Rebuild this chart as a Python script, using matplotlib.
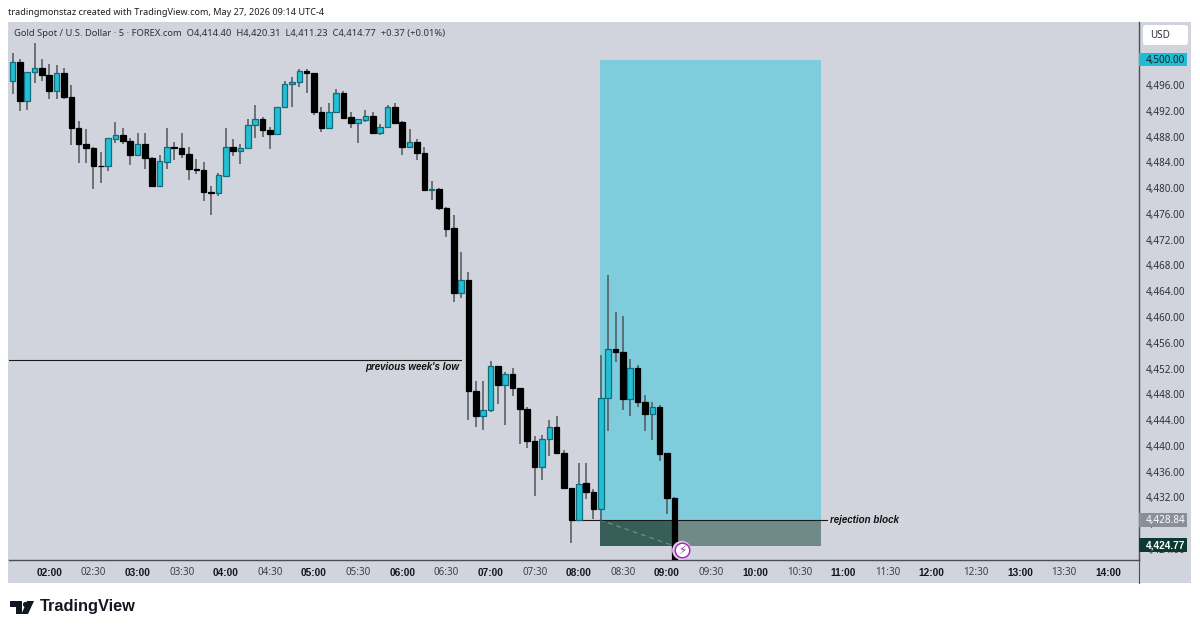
import matplotlib
matplotlib.use('Agg')
import matplotlib.pyplot as plt
from matplotlib.patches import Rectangle, FancyBboxPatch, Polygon

plt.rcParams['font.family'] = ['Noto Sans', 'DejaVu Sans']
BOLD_FONT = 'Liberation Sans'  # has real bold and bold italic faces

# OHLC, 5 min bars starting 01:35
opens = [4496.64, 4499.64, 4493.59, 4498.04, 4498.76, 4497.67, 4495.19, 4497.99, 4494.21, 4489.45,
         4486.97, 4486.30, 4483.56, 4483.50, 4487.75, 4488.37, 4487.38, 4485.26, 4486.87, 4484.80,
         4480.35, 4484.18, 4486.45, 4486.30, 4485.42, 4482.99, 4482.83, 4479.42, 4479.26, 4482.00,
         4486.40, 4485.88, 4486.25, 4489.81, 4490.74, 4489.14, 4488.42, 4492.71, 4496.28, 4496.59,
         4498.24, 4497.88, 4491.93, 4489.45, 4491.83, 4494.78, 4491.05, 4490.12, 4490.69, 4491.31,
         4488.67, 4489.50, 4492.61, 4490.28, 4486.45, 4487.18, 4485.47, 4479.78, 4479.99, 4476.99,
         4473.83, 4463.85, 4465.77, 4448.60, 4444.77, 4445.60, 4452.47, 4449.58, 4451.18, 4449.11,
         4445.85, 4440.89, 4436.86, 4441.10, 4443.06, 4438.98, 4433.55, 4428.53, 4434.27, 4432.98,
         4430.29, 4447.50, 4455.06, 4454.65, 4447.30, 4452.11, 4446.89, 4445.03, 4446.16, 4438.93,
         4431.94]
highs = [4500.99, 4500.11, 4498.09, 4502.54, 4500.05, 4499.28, 4499.17, 4498.66, 4496.07, 4490.54,
         4489.19, 4486.50, 4485.62, 4487.80, 4490.38, 4489.35, 4487.80, 4488.68, 4488.68, 4484.95,
         4485.21, 4489.35, 4487.28, 4488.68, 4486.40, 4484.64, 4484.07, 4480.45, 4482.37, 4489.35,
         4487.64, 4486.92, 4490.85, 4492.92, 4491.05, 4489.61, 4492.71, 4496.69, 4497.26, 4498.60,
         4498.50, 4497.88, 4492.61, 4493.33, 4495.40, 4495.09, 4491.83, 4490.74, 4492.24, 4491.93,
         4489.97, 4493.02, 4493.33, 4490.54, 4489.19, 4487.74, 4486.40, 4481.18, 4480.09, 4477.09,
         4475.95, 4470.11, 4467.01, 4450.15, 4450.15, 4453.25, 4452.47, 4451.54, 4452.11, 4449.11,
         4446.06, 4441.66, 4441.77, 4444.15, 4444.66, 4439.44, 4433.55, 4437.37, 4437.37, 4433.44,
         4454.18, 4466.59, 4460.80, 4460.23, 4453.51, 4452.63, 4447.98, 4446.89, 4446.42, 4438.93,
         4432.10]
lows = [4494.73, 4491.99, 4492.14, 4496.43, 4496.74, 4493.90, 4493.90, 4493.90, 4486.71, 4484.02,
        4483.92, 4479.99, 4480.92, 4482.68, 4487.12, 4486.87, 4483.61, 4485.26, 4483.04, 4480.35,
        4480.35, 4483.04, 4484.43, 4484.80, 4481.28, 4482.26, 4478.02, 4475.90, 4478.90, 4481.85,
        4485.05, 4483.87, 4486.09, 4487.80, 4487.95, 4486.09, 4488.42, 4492.71, 4492.71, 4495.71,
        4494.88, 4491.36, 4488.83, 4489.45, 4491.83, 4491.00, 4489.45, 4487.02, 4490.33, 4488.57,
        4488.36, 4489.50, 4490.23, 4485.16, 4486.24, 4484.49, 4479.73, 4478.18, 4476.62, 4472.54,
        4462.41, 4463.03, 4444.10, 4442.96, 4442.55, 4445.29, 4446.53, 4443.32, 4447.82, 4440.37,
        4439.70, 4432.36, 4434.79, 4438.56, 4438.98, 4433.55, 4425.06, 4428.53, 4431.89, 4428.79,
        4427.55, 4442.44, 4453.04, 4445.60, 4444.77, 4446.16, 4442.44, 4440.99, 4437.73, 4429.46,
        4421.50]
closes = [4499.64, 4493.59, 4498.09, 4498.76, 4497.67, 4495.19, 4497.99, 4494.21, 4489.45, 4486.97,
          4486.25, 4483.50, 4483.50, 4487.80, 4488.37, 4487.38, 4485.26, 4486.87, 4484.80, 4480.35,
          4484.23, 4486.50, 4486.30, 4485.42, 4482.99, 4482.83, 4479.42, 4479.26, 4482.06, 4486.45,
          4485.88, 4486.25, 4489.81, 4490.74, 4489.14, 4488.42, 4492.71, 4496.28, 4496.59, 4498.19,
          4497.88, 4491.93, 4489.45, 4491.83, 4494.78, 4491.00, 4490.12, 4490.74, 4491.31, 4488.57,
          4489.55, 4492.61, 4490.23, 4486.45, 4487.18, 4485.47, 4479.73, 4479.99, 4476.99, 4473.78,
          4463.85, 4465.77, 4448.60, 4444.77, 4445.60, 4452.42, 4449.58, 4451.18, 4449.11, 4445.80,
          4440.84, 4436.86, 4441.10, 4443.06, 4438.98, 4433.55, 4428.53, 4434.22, 4432.93, 4430.29,
          4447.50, 4455.06, 4454.65, 4447.30, 4452.11, 4446.89, 4445.03, 4446.16, 4438.87, 4431.94,
          4421.50]

price_ticks = [4500 - 4 * k for k in range(20)]
time_labels = ['02:00', '02:30', '03:00', '03:30', '04:00', '04:30', '05:00', '05:30', '06:00', '06:30',
               '07:00', '07:30', '08:00', '08:30', '09:00', '09:30', '10:00', '10:30', '11:00', '11:30',
               '12:00', '12:30', '13:00', '13:30', '14:00']
time_pos = [5 + 6 * k for k in range(len(time_labels))]

# position tool and drawings
entry = 4428.6
target = 4500.0
stop = 4424.55
box_start, box_end = 79.85, 110
last_bar = 90
prev_low = 4453.4
prev_low_end = 61
rej_start, rej_end = 76, 110.7

BG = '#d1d4dc'
W, H = 1200, 631
PX_PER_BAR = 7.354
PX_PER_USD = 6.445
X0, X1, Y0, Y1 = 9, 1139, 22, 560  # plot area in pixels

fig = plt.figure(figsize=(W / 100, H / 100), dpi=100, facecolor='white')


def px_axes(x0, y0, x1, y1):
    return fig.add_axes([x0 / W, 1 - y1 / H, (x1 - x0) / W, (y1 - y0) / H])


# panel behind everything, in pixels
ov = px_axes(0, 0, W, H)
ov.set_xlim(0, W)
ov.set_ylim(H, 0)
ov.axis('off')
ov.add_patch(Rectangle((8, 22), 1183, 561, fc=BG, ec='none'))

ax = px_axes(X0, Y0, X1, Y1)
ax.set_facecolor(BG)
xlim = ((X0 - 12.5) / PX_PER_BAR, (X1 - 12.5) / PX_PER_BAR)
ylim = (4500 - (Y1 - 59.7) / PX_PER_USD, 4500 + (59.7 - Y0) / PX_PER_USD)
ax.set_xlim(xlim)
ax.set_ylim(ylim)
for s in ['top', 'left', 'right']:
    ax.spines[s].set_visible(False)
ax.spines['bottom'].set_color('#4a4e57')
ax.spines['bottom'].set_linewidth(1)
ax.set_xticks([])
ax.set_yticks([])

# long position box
ax.add_patch(Rectangle((box_start, entry), box_end - box_start, target - entry, fc='#7fcddc', ec='none', zorder=1))
ax.add_patch(Rectangle((box_start, stop), box_end - box_start, entry - stop, fc='#6f8a88', ec='none', zorder=1))
ax.add_patch(Rectangle((box_start, stop), last_bar - box_start, entry - stop, fc='#375e58', ec='none', zorder=1.1))
ax.plot([box_start, last_bar], [entry, stop], color='#6f8b87', lw=0.9, ls=(0, (4, 3)), zorder=1.2)

# drawings
ax.plot([xlim[0], prev_low_end], [prev_low, prev_low], color='#1a1a1a', lw=0.8, zorder=2)
ax.plot([rej_start, rej_end], [entry, entry], color='#1a1a1a', lw=0.8, zorder=2)

# candles
xs = range(len(opens))
for i in xs:
    up = closes[i] >= opens[i]
    ax.vlines(i, lows[i], highs[i], color='#50555c', lw=1.1, zorder=3)
    bot = min(opens[i], closes[i])
    ht = abs(closes[i] - opens[i])
    if up:
        ax.bar(i, ht, 0.76, bot, color='#24bfd4', edgecolor='#0f6d7c', linewidth=0.9, zorder=4)
    else:
        ax.bar(i, ht, 0.76, bot, color='#000000', edgecolor='#000000', linewidth=0.9, zorder=4)

ax.text(61 - 0.3, prev_low - 1.1, "previous week's low", ha='right', va='center', fontsize=7.0,
        style='italic', weight='bold', family=BOLD_FONT, color='#111111', zorder=5)
ax.text(rej_end + 0.5, entry, 'rejection block', ha='left', va='center', fontsize=7.0,
        style='italic', weight='bold', family=BOLD_FONT, color='#111111', zorder=5)

# alert icon next to the last bar
ax.scatter([last_bar + 1], [stop - 0.68], s=190, fc='#e3c6ee', ec='none', zorder=6, clip_on=False)
ax.scatter([last_bar + 1], [stop - 0.68], s=110, fc='white', ec='#9c27b0', lw=1.0, zorder=6, clip_on=False)
ax.text(last_bar + 1, stop - 0.68, '\u26a1', ha='center', va='center', fontsize=8.5, color='#9c27b0',
        family='DejaVu Sans', zorder=7)

# price scale
rax = px_axes(X1, Y0, 1191, Y1)
rax.set_xlim(0, 1)
rax.set_ylim(ylim)
rax.patch.set_alpha(0)
for s in ['top', 'right', 'bottom']:
    rax.spines[s].set_visible(False)
rax.spines['left'].set_color('#4a4e57')
rax.spines['left'].set_linewidth(1)
rax.set_xticks([])
rax.set_yticks([])
for p in price_ticks:
    if p == 4500:
        continue
    rax.text(7 / 52, p - 0.15, f'{p:,.2f}', ha='left', va='center', fontsize=7.1, color='#2e3138', zorder=2)

# price labels on the scale
rax.add_patch(Rectangle((0, 4500 - 1.05), 48 / 52, 2.1, fc='#1fbcd2', ec='none', zorder=3))
rax.text(7 / 52, 4500 - 0.15, '4,500.00', ha='left', va='center', fontsize=7.1, color='#10242a', zorder=4)
rax.add_patch(Rectangle((0, entry - 1.05), 48 / 52, 2.1, fc='#8a8e99', ec='none', zorder=3))
rax.text(7 / 52, entry - 0.15, '4,428.84', ha='left', va='center', fontsize=7.1, color='white', zorder=4)
rax.add_patch(Rectangle((0, 4424.7 - 1.05), 48 / 52, 2.1, fc='#0b3a33', ec='none', zorder=3))
rax.text(7 / 52, 4424.7 - 0.15, '4,424.77', ha='left', va='center', fontsize=7.3, color='white', weight='bold',
         family=BOLD_FONT, zorder=4)

# time scale and the frame below it
ov2 = px_axes(0, 0, W, H)
ov2.set_xlim(0, W)
ov2.set_ylim(H, 0)
ov2.axis('off')
ov2.plot([X1, X1], [Y1, 583], color='#4a4e57', lw=0.8)
for lab, i in zip(time_labels, time_pos):
    if lab.endswith(':00'):
        ov2.text(12.5 + PX_PER_BAR * i, 572.5, lab, ha='center', va='center', fontsize=7.3,
                 weight='bold', family=BOLD_FONT, color='#131722')
    else:
        ov2.text(12.5 + PX_PER_BAR * i, 572.5, lab, ha='center', va='center', fontsize=7.1, color='#3a3e47')

# header texts
ov2.text(8, 12.5, 'tradingmonstaz created with TradingView.com, May 27, 2026 09:14 UTC-4', ha='left', va='center',
         fontsize=6.55, color='#1c1c1c')
ov2.text(14, 34, 'Gold Spot / U.S. Dollar \u00b7 5 \u00b7 FOREX.com  O4,414.40  H4,420.31  L4,411.23  C4,414.77  +0.37 (+0.01%)',
         ha='left', va='center', fontsize=6.75, color='#2e3138')

# USD button
ov2.add_patch(FancyBboxPatch((1145, 27), 41, 16, boxstyle='round,pad=2,rounding_size=3', fc='white', ec='none'))
ov2.text(1150, 35, 'USD', ha='left', va='center', fontsize=7.1, color='#2e3138')

# TradingView logo
ov2.add_patch(Polygon([(10, 601), (22, 601), (22, 614), (16, 614), (16, 607), (10, 607)], fc='#131722', ec='none'))
ov2.add_patch(Polygon([(27, 601), (34, 601), (28, 614), (21.5, 614)], fc='#131722', ec='none'))
ov2.scatter([24.5], [603.5], s=14, c='#131722', lw=0)
ov2.text(40, 607, 'TradingView', ha='left', va='center', fontsize=11.8, weight='bold', family=BOLD_FONT, color='#131722')

fig.savefig('out.png', dpi=100, facecolor='white')
